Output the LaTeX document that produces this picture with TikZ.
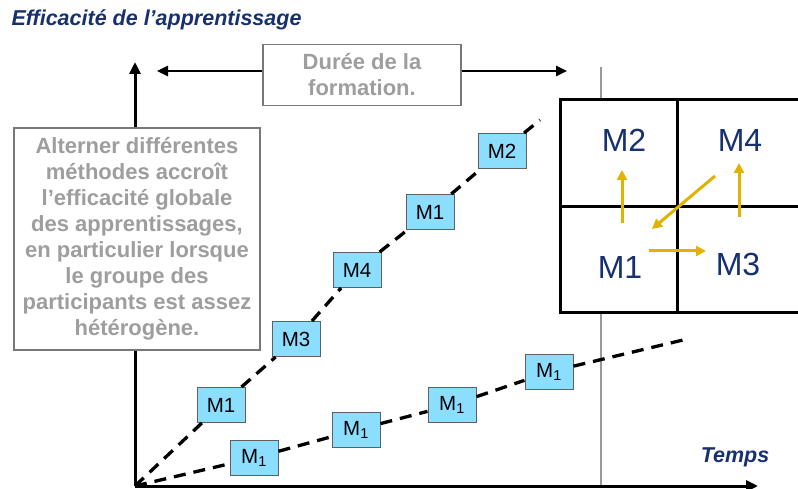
\documentclass[tikz,border=0pt]{standalone}
\usepackage{fontspec}
\setmainfont{Liberation Sans}
\usetikzlibrary{arrows.meta}
\definecolor{titlenavy}{RGB}{22,48,112}
\definecolor{methblue}{RGB}{140,222,255}
\definecolor{notegray}{RGB}{158,158,158}
\definecolor{boxgray}{RGB}{120,120,120}
\definecolor{arrowgold}{RGB}{225,178,0}
\tikzset{
    % Axes
    axisline/.style={line width=3pt, -{Triangle[length=12pt,width=11pt]}},
    axislbl/.style={font=\fontsize{21.5}{24}\selectfont\bfseries\itshape, text=titlenavy},
    % Grey comment boxes
    notebox/.style={rectangle, draw=boxgray, line width=1.3pt, fill=white, align=center,
                text=notegray, font=\fontsize{22}{26}\selectfont\bfseries, inner sep=0pt},
    durarrow/.style={line width=2.5pt, -{Triangle[length=11pt,width=10pt]}},
    % Method boxes
    methbox/.style={rectangle, draw=boxgray!80!black, line width=1pt, fill=methblue,
                minimum width=48pt, minimum height=35pt, inner sep=0pt,
                font=\fontsize{20.5}{22}\selectfont},
    pathline/.style={line width=3.3pt, dash pattern=on 12pt off 8pt},
    % Grid of methods
    gridline/.style={line width=3pt},
    gridlbl/.style={font=\fontsize{32}{34}\selectfont, text=titlenavy},
    goldarrow/.style={line width=3pt, arrowgold, -{Triangle[length=10pt,width=10pt]}},
}
\begin{document}
\begin{tikzpicture}[x=1pt, y=-1pt]
\useasboundingbox (0,0) rectangle (798,489);

% axes
\coordinate (o)    at (135,486);
\coordinate (ytop) at (135,62);
\coordinate (xend) at (758,486);
\draw[gray!80, line width=1.2pt] (601,67) -- (601,487);
\draw[axisline] (o) -- (ytop);
\draw[axisline] (o) -- (xend);
\node[axislbl, anchor=west] (title) at (8,20) {Efficacité de l’apprentissage};
\node[axislbl] (temps) at (735,457) {Temps};

% duration
\node[notebox, minimum width=198pt, minimum height=61pt] (duree) at (362,75)
    {Durée de la\\formation.};
\coordinate (dleft)  at (157,71);
\coordinate (dright) at (567,71);
\draw[durarrow] (duree.west |- dleft) -- (dleft);
\draw[durarrow] (duree.east |- dright) -- (dright);

\node[notebox, minimum width=246pt, minimum height=222pt] (note) at (137,239)
    {Alterner différentes\\méthodes accroît\\l’efficacité globale\\des apprentissages,\\en particulier lorsque\\le groupe des\\participants est assez\\hétérogène.};

% alternating methods
\node[methbox] (a1) at (221,405) {M1};
\node[methbox] (a2) at (296,339) {M3};
\node[methbox] (a3) at (357,270) {M4};
\node[methbox] (a4) at (430,212) {M1};
\node[methbox] (a5) at (502,151) {M2};
\coordinate (aend) at (540,120);
\draw[pathline] (o) -- (a1) -- (a2) -- (a3) -- (a4) -- (a5) -- (aend);

% single method
\node[methbox] (b1) at (254,458) {M\textsubscript{1}};
\node[methbox] (b2) at (356,430) {M\textsubscript{1}};
\node[methbox] (b3) at (452,405) {M\textsubscript{1}};
\node[methbox] (b4) at (549,372) {M\textsubscript{1}};
\coordinate (bend) at (683,340);
\draw[pathline] (o) -- (b1) -- (b2) -- (b3) -- (b4) -- (bend);

% grid
\draw[gridline, fill=white] (560,100) rectangle (802,312);
\draw[gridline] (677,100) -- (677,312);
\draw[gridline] (560,207) -- (802,207);
\node[gridlbl] (g2) at (624,140) {M2};
\node[gridlbl] (g4) at (740,140) {M4};
\node[gridlbl] (g1) at (620,267) {M1};
\node[gridlbl] (g3) at (738,264) {M3};
\coordinate (g1up)  at (622,223);
\coordinate (g2dn)  at (622,170);
\coordinate (g4dn)  at (715,176);
\coordinate (g1ne)  at (652,229);
\coordinate (g1rt)  at (649,251);
\coordinate (g3lt)  at (706,251);
\coordinate (g3up)  at (739,217);
\coordinate (g4bot) at (739,163);
\draw[goldarrow] (g1up) -- (g2dn);
\draw[goldarrow] (g4dn) -- (g1ne);
\draw[goldarrow] (g1rt) -- (g3lt);
\draw[goldarrow] (g3up) -- (g4bot);
\end{tikzpicture}
\end{document}
